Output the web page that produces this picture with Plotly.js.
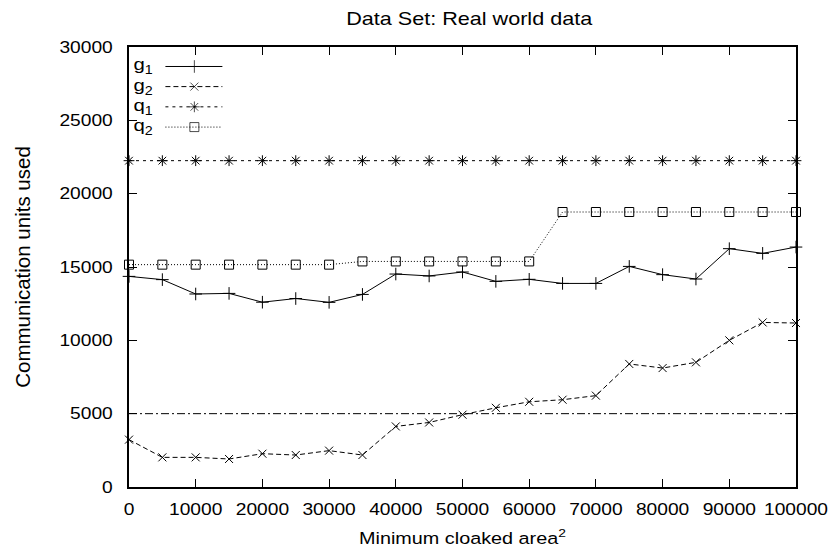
<!DOCTYPE html>
<html>
<head>
<meta charset="utf-8">
<script src="https://cdn.plot.ly/plotly-3.0.1.min.js"></script>
<style>html,body{margin:0;padding:0;background:#fff;}#chart{width:835px;height:552px;}</style>
</head>
<body>
<div id="chart"></div>
<script>
// ---- data ----
const areas = [0,5000,10000,15000,20000,25000,30000,35000,40000,45000,50000,55000,60000,65000,70000,75000,80000,85000,90000,95000,100000];
const g1 = [14360,14140,13160,13200,12600,12850,12590,13130,14520,14390,14660,14020,14160,13880,13880,15040,14480,14180,16250,15930,16360];
const g2 = [3230,2020,2020,1910,2270,2180,2480,2180,4130,4400,4930,5400,5810,5950,6230,8390,8110,8500,10000,11220,11180];
const q1 = [22250,22250,22250,22250,22250,22250,22250,22250,22250,22250,22250,22250,22250,22250,22250,22250,22250,22250,22250,22250,22250];
const q2 = [15160,15160,15160,15160,15160,15160,15160,15380,15380,15380,15380,15380,15380,18750,18750,18750,18750,18750,18750,18750,18750];
const thresholdX = [0,100000];
const thresholdY = [5000,5000];
const seriesNames = ['g<sub>1</sub>','g<sub>2</sub>','q<sub>1</sub>','q<sub>2</sub>'];
const xTicks = [0,10000,20000,30000,40000,50000,60000,70000,80000,90000,100000];
const yTicks = [0,5000,10000,15000,20000,25000,30000];

const FONT = 'Liberation Sans, Arial, sans-serif';
const STRETCH = 1.2; // reference text is horizontally wide
const styles = [
  {dash:'solid', symbol:'cross-thin-open', size:9},
  {dash:'5px,3px', symbol:'x-thin-open', size:8},
  {dash:'3px,4px', symbol:'asterisk-open', size:9},
  {dash:'1px,2px', symbol:'square-open', size:9}
];
const seriesData = [g1,g2,q1,q2];

const traces = seriesData.map((ys,i)=>({
  x: areas, y: ys, type:'scatter', mode:'lines+markers', name: seriesNames[i],
  line:{color:'#000', width:1, dash:styles[i].dash},
  marker:{symbol:styles[i].symbol, size:styles[i].size, color:'#000', line:{color:'#000', width:1}},
  showlegend:false, cliponaxis:false
}));
traces.push({x:thresholdX, y:thresholdY, type:'scatter', mode:'lines',
  line:{color:'#000', width:1, dash:'8px,3px,2px,3px'}, showlegend:false});

// custom gnuplot-style key (label left, sample right), in paper coordinates
const keyRows = [0.9557, 0.910, 0.864, 0.818];
const keyLineX = [0.0546, 0.098, 0.140];
const annotations = [];
keyRows.forEach((ry,i)=>{
  traces.push({x:keyLineX, y:[ry,ry,ry], xaxis:'x2', yaxis:'y2', type:'scatter', mode:'lines+markers',
    line:{color:'#000', width:1, dash:styles[i].dash},
    marker:{symbol:styles[i].symbol, size:[0,styles[i].size,0], color:'#000', line:{color:'#000', width:1}},
    showlegend:false, hoverinfo:'skip', cliponaxis:false});
  annotations.push({xref:'paper', yref:'paper', x:0.006, y:ry, xanchor:'left', yanchor:'middle',
    text:seriesNames[i], showarrow:false, font:{family:FONT, size:17, color:'#000'}});
});

const layout = {
  width:835, height:552,
  margin:{l:128.5, r:38.5, t:47.3, b:64.7, pad:0},
  paper_bgcolor:'#fff', plot_bgcolor:'#fff',
  font:{family:FONT, size:16, color:'#000'},
  title:{text:'Data Set: Real world data', x:0.51, xref:'paper', y:0.967, yanchor:'middle', font:{family:FONT, size:18, color:'#000'}},
  xaxis:{range:[0,100000], tickvals:xTicks, ticktext:xTicks.map(String), ticks:'inside', ticklen:8, tickwidth:1, tickcolor:'#000',
    showline:true, linecolor:'#000', linewidth:2, mirror:'ticks', showgrid:false, zeroline:false,
    ticklabelstandoff:7, tickfont:{family:FONT, size:16},
    title:{text:'Minimum cloaked area<sup>2</sup>', font:{family:FONT, size:16.5}, standoff:15}},
  yaxis:{range:[0,30000], tickvals:yTicks, ticktext:yTicks.map(String), ticks:'inside', ticklen:8, tickwidth:1, tickcolor:'#000',
    showline:true, linecolor:'#000', linewidth:2, mirror:'ticks', showgrid:false, zeroline:false,
    ticklabelstandoff:11, tickfont:{family:FONT, size:16},
    title:{text:'Communication units used', font:{family:FONT, size:20.5}, standoff:32}},
  xaxis2:{overlaying:'x', range:[0,1], visible:false, fixedrange:true},
  yaxis2:{overlaying:'y', range:[0,1], visible:false, fixedrange:true},
  annotations:annotations,
  showlegend:false
};

function stretchTexts(gd){
  gd.querySelectorAll('svg text').forEach(el=>{
    if(el.dataset.stretched) return;
    const existing = el.getAttribute('transform')||'';
    if(existing.indexOf('rotate')>=0) return; // keep rotated axis title as is
    const x = parseFloat(el.getAttribute('x')||'0');
    const y = parseFloat(el.getAttribute('y')||'0');
    let px = x, py = y;
    const tl = el.transform.baseVal.consolidate();
    if(tl){ const m = tl.matrix; px = m.a*x + m.c*y + m.e; py = m.b*x + m.d*y + m.f; }
    el.setAttribute('transform', `translate(${px},${py}) scale(${STRETCH},1) translate(${-px},${-py}) ` + existing);
    el.dataset.stretched = '1';
  });
}
Plotly.newPlot('chart', traces, layout, {staticPlot:true, displayModeBar:false}).then(gd=>stretchTexts(gd));
</script>
</body>
</html>
